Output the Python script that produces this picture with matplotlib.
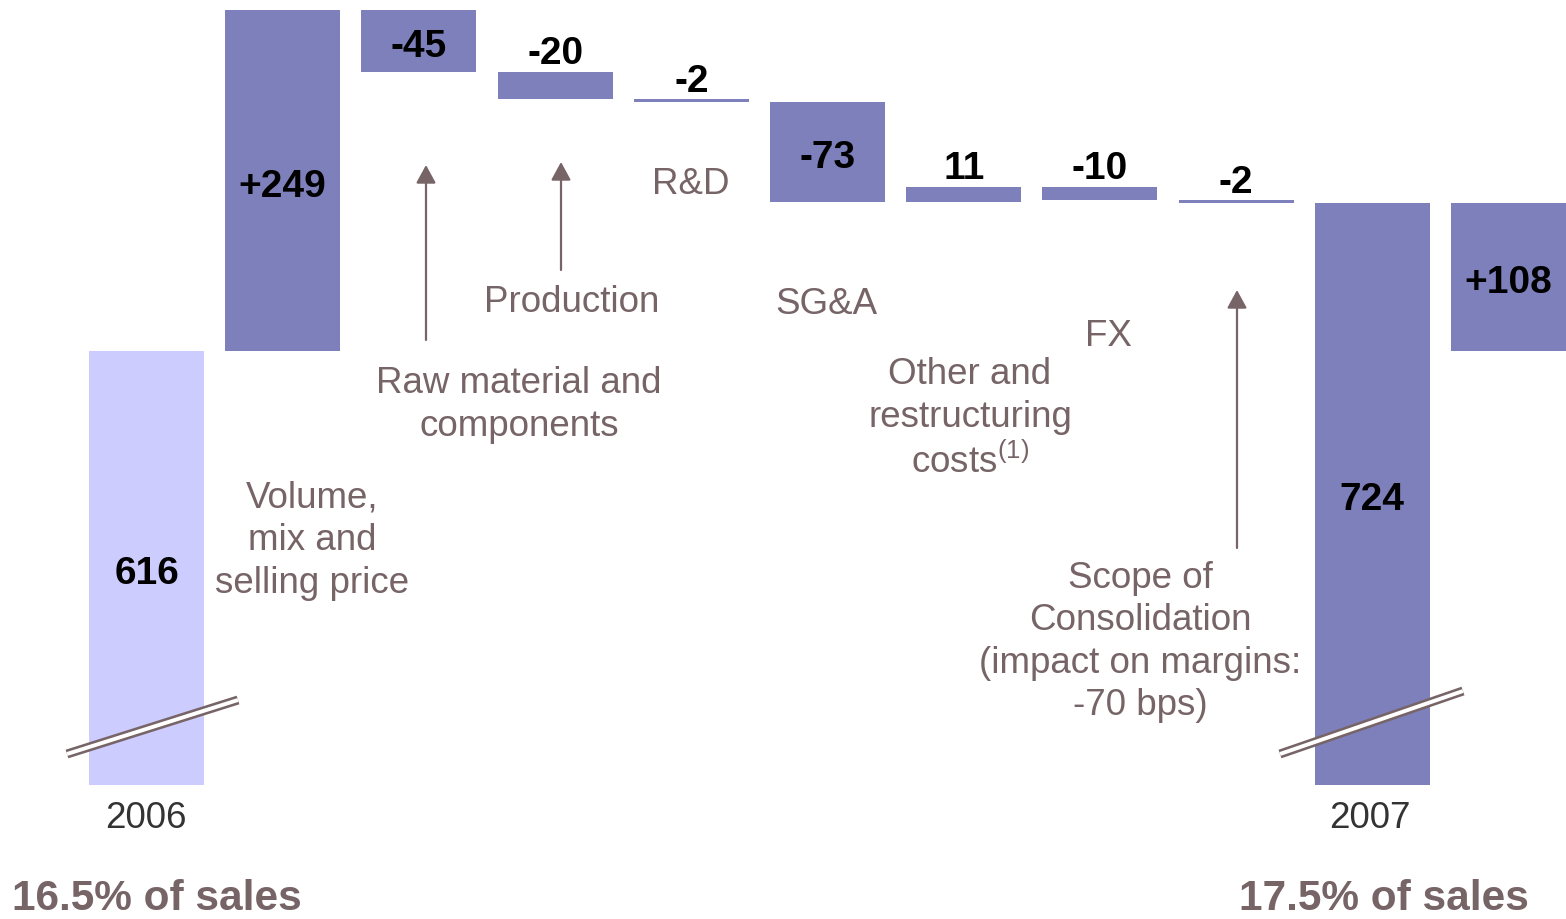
import numpy as np
import matplotlib.pyplot as plt

plt.rcParams['font.family'] = 'Liberation Sans'
plt.rcParams['mathtext.fontset'] = 'custom'
plt.rcParams['mathtext.rm'] = 'Liberation Sans'

# data
start = 616
end = 724
steps = [249, -45, -20, -2, -73, 11, -10, -2]
step_labels = ["+249", "-45", "-20", "-2", "-73", "11", "-10", "-2"]
gap_label = "+108"
years = ["2006", "2007"]
margins = ["16.5% of sales", "17.5% of sales"]

W, H = 1566, 919
light = "#CCCCFF"
dark = "#7D80BB"
grey = "#766467"
cut = 299  # level where the broken bars stop

fig = plt.figure(figsize=(W / 100, H / 100), dpi=100)
ax = fig.add_axes([0, 0, 1, 1])
k = 1.37  # px per unit
ax.set_xlim(-146.5 / 136.2, (W - 146.5) / 136.2)
ax.set_ylim(start - (H - 351) / k, start + 351 / k)
ax.axis("off")

def px(x, y):
    return x / W, 1 - y / H

def inside(x, y, lab):
    ax.annotate(lab, (x, y), xytext=(0, -4.5), textcoords="offset points",
                ha="center", va="center", fontsize=28, fontweight="bold")

bw = 0.845
ax.bar(0, start - cut, bottom=cut, width=bw, color=light)
inside(0, (start + cut) / 2, str(start))

level = start
for i, (s, lab) in enumerate(zip(steps, step_labels), start=1):
    ax.bar(i, s, bottom=level, width=bw, color=dark)
    if abs(s) >= 40:
        inside(i, level + s / 2, lab)
    else:
        top = max(level, level + s)
        ax.annotate(lab, (i, top), xytext=(0, -0.5), textcoords="offset points",
                    ha="center", va="bottom", fontsize=28, fontweight="bold")
    level += s

ax.bar(9, end - cut, bottom=cut, width=bw, color=dark)
inside(9, (end + cut) / 2, str(end))
ax.bar(10, end - start, bottom=start, width=bw, color=dark)
inside(10, (start + end) / 2, gap_label)

# category notes
notes = [
    ("Volume,\nmix and\nselling price", 312, 541),
    ("Raw material and\ncomponents", 519, 405),
    ("Production", 572, 303),
    ("R&D", 691, 185),
    ("SG&A", 826, 304),
    ("Other and\nrestructuring\ncosts$^{(1)}$", 970, 419),
    ("FX", 1108, 337),
    ("Scope of\nConsolidation\n(impact on margins:\n-70 bps)", 1140, 642),
]
for txt, x, y in notes:
    ax.text(*px(x, y), txt, transform=ax.transAxes, ha="center", va="center",
            fontsize=26.5, color=grey, linespacing=1.28)

# arrows
for x, y0, y1 in [(426, 340, 165), (561, 270, 162), (1237, 548, 290)]:
    ax.annotate("", xy=px(x, y1), xytext=px(x, y0), xycoords="axes fraction",
                arrowprops=dict(arrowstyle="-|>,head_length=0.55,head_width=0.3",
                                mutation_scale=20, lw=1.6, color=grey,
                                shrinkA=0, shrinkB=0))

# axis break marks
for (x0, y0), (x1, y1) in [((67, 754), (238, 700)), ((1280, 754), (1463, 691))]:
    xs, ys = zip(px(x0, y0), px(x1, y1))
    ax.plot(xs, ys, transform=ax.transAxes, color=grey, lw=6.5,
            solid_capstyle="butt")
    ax.plot(xs, ys, transform=ax.transAxes, color="white", lw=2.8,
            solid_capstyle="butt")

# years and margins
for yr, m, x, xm in zip(years, margins, [146, 1370], [157, 1384]):
    ax.text(*px(x, 819), yr, transform=ax.transAxes, ha="center",
            va="center", fontsize=26.5, color="#333333")
    ax.text(*px(xm, 899), m, transform=ax.transAxes, ha="center",
            va="center", fontsize=30.5, fontweight="bold", color=grey)

fig.savefig("out.png", dpi=100)
